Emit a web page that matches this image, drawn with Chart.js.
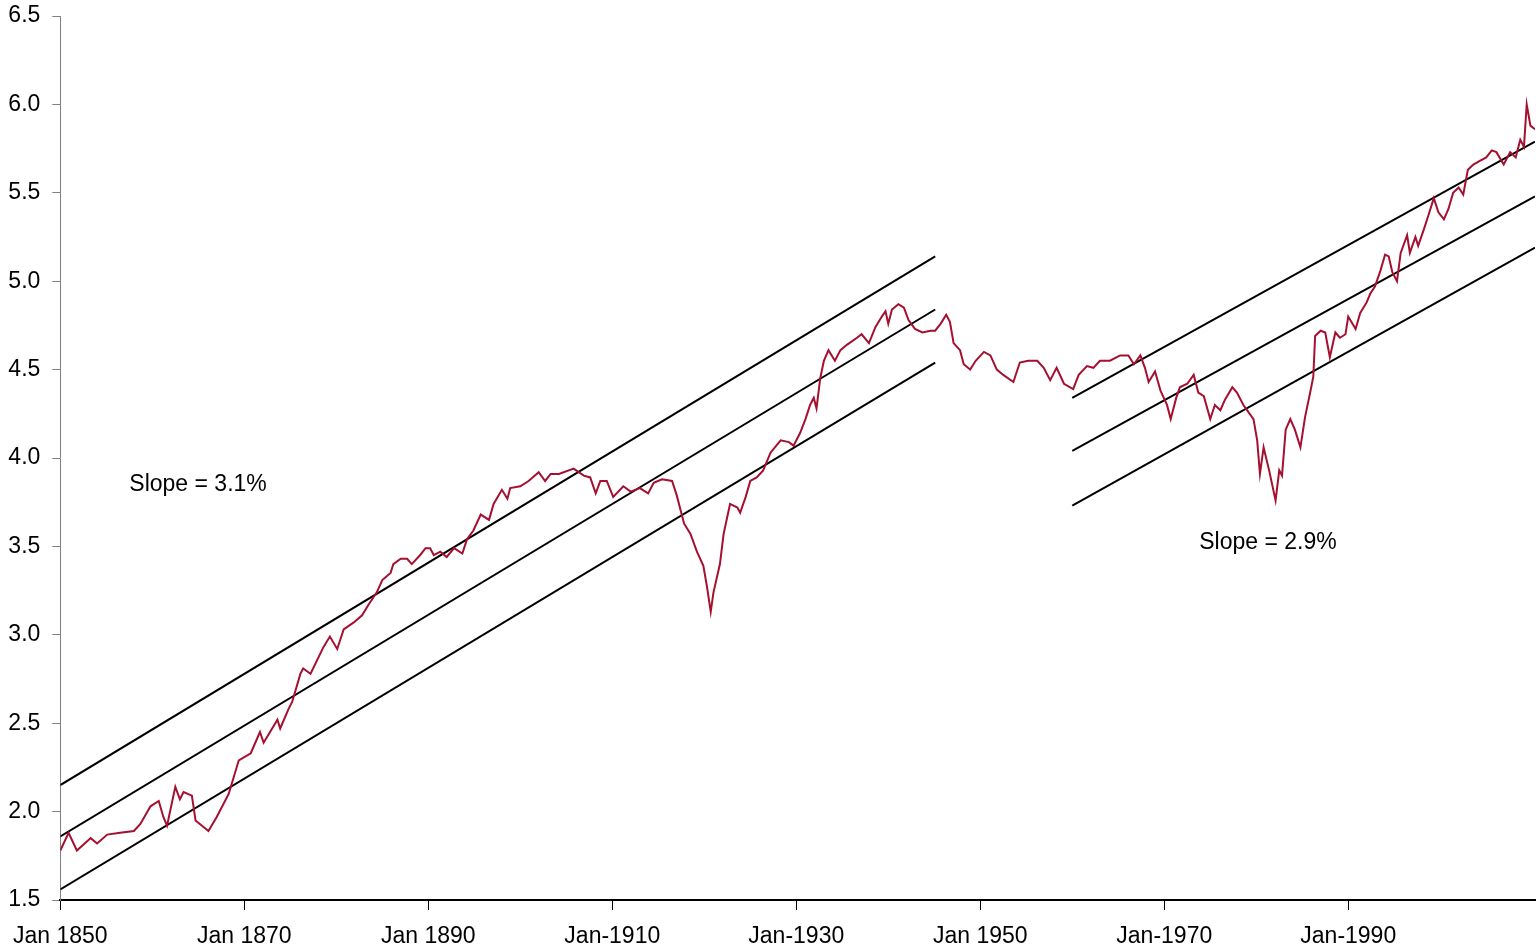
<!DOCTYPE html>
<html>
<head>
<meta charset="utf-8">
<script src="https://cdn.jsdelivr.net/npm/chart.js@4.4.0/dist/chart.umd.min.js"></script>
<style>
  html, body { margin: 0; padding: 0; background: #fff; }
  #wrap { width: 1536px; height: 952px; position: relative; }
</style>
</head>
<body>
<div id="wrap"><canvas id="chart"></canvas></div>
<script>
// x-axis ticks (years) and their labels as printed on the chart
const tickYears = [1850, 1870, 1890, 1910, 1930, 1950, 1970, 1990];
const tickLabels = ['Jan 1850', 'Jan 1870', 'Jan 1890', 'Jan-1910', 'Jan-1930', 'Jan 1950', 'Jan-1970', 'Jan-1990'];

// log series (year, value)
const priceYears = [
  1850.0, 1850.9, 1851.8, 1853.3, 1854.0, 1855.1, 1856.5, 1858.0, 1858.7, 1859.8,
  1860.7, 1861.2, 1861.6, 1862.5, 1863.0, 1863.4, 1864.3, 1864.7, 1865.4, 1866.1,
  1867.0, 1868.3, 1869.4, 1870.7, 1871.7, 1872.1, 1873.6, 1873.9, 1874.8, 1875.2,
  1876.1, 1876.4, 1877.2, 1878.6, 1879.3, 1880.1, 1880.8, 1881.9, 1882.8, 1883.5,
  1884.4, 1885.0, 1885.9, 1886.2, 1887.0, 1887.7, 1888.2, 1889.1, 1889.7, 1890.2,
  1890.6, 1891.3, 1892.0, 1892.8, 1893.7, 1894.2, 1894.9, 1895.7, 1896.6, 1897.1,
  1898.0, 1898.6, 1898.9, 1900.0, 1900.9, 1902.0, 1902.7, 1903.3, 1904.2, 1905.8,
  1906.9, 1907.6, 1908.2, 1908.7, 1909.4, 1910.1, 1911.2, 1912.0, 1913.0, 1913.9,
  1914.5, 1915.4, 1916.5, 1917.0, 1917.8, 1918.5, 1919.2, 1919.9, 1920.3, 1920.7,
  1921.0, 1921.7, 1922.1, 1922.8, 1923.6, 1923.9, 1924.5, 1925.0, 1925.7, 1926.4,
  1927.2, 1928.3, 1929.2, 1929.7, 1930.4, 1931.0, 1931.5, 1931.9, 1932.2, 1932.6,
  1933.0, 1933.5, 1934.2, 1934.8, 1935.5, 1936.6, 1937.1, 1937.9, 1938.6, 1939.3,
  1939.7, 1940.0, 1940.4, 1941.1, 1941.7, 1942.2, 1942.9, 1943.7, 1944.6, 1945.1,
  1945.7, 1946.3, 1946.7, 1947.1, 1947.8, 1948.2, 1948.9, 1949.5, 1950.4, 1951.1,
  1951.8, 1952.5, 1953.6, 1954.3, 1955.2, 1956.2, 1956.9, 1957.6, 1958.3, 1959.1,
  1960.1, 1960.7, 1961.6, 1962.3, 1963.0, 1964.1, 1965.2, 1966.1, 1966.7, 1967.4,
  1967.9, 1968.3, 1969.0, 1969.6, 1970.3, 1970.7, 1971.3, 1971.7, 1972.5, 1973.2,
  1973.7, 1974.3, 1975.0, 1975.5, 1976.1, 1976.6, 1977.4, 1977.9, 1978.6, 1979.7,
  1980.1, 1980.4, 1980.8, 1981.4, 1982.1, 1982.5, 1982.8, 1983.2, 1983.7, 1984.2,
  1984.8, 1985.3, 1985.9, 1986.2, 1986.4, 1987.0, 1987.5, 1988.0, 1988.6, 1989.1,
  1989.7, 1990.0, 1990.8, 1991.3, 1992.0, 1992.4, 1992.9, 1993.5, 1994.0, 1994.4,
  1994.8, 1995.3, 1995.7, 1996.4, 1996.7, 1997.3, 1997.6, 1998.2, 1998.7, 1999.3,
  1999.8, 2000.4, 2000.9, 2001.4, 2002.0, 2002.5, 2003.0, 2003.6, 2004.3, 2005.0,
  2005.6, 2006.1, 2006.9, 2007.6, 2008.2, 2008.7, 2009.1, 2009.4, 2009.8, 2010.3
];
const priceValues = [
  1.78, 1.88, 1.78, 1.85, 1.82, 1.87, 1.88, 1.89, 1.93, 2.03,
  2.06, 1.97, 1.92, 2.14, 2.07, 2.11, 2.09, 1.95, 1.92, 1.89,
  1.97, 2.10, 2.29, 2.33, 2.45, 2.39, 2.52, 2.47, 2.58, 2.62,
  2.78, 2.81, 2.78, 2.93, 2.99, 2.92, 3.03, 3.07, 3.11, 3.17,
  3.24, 3.31, 3.35, 3.40, 3.43, 3.43, 3.40, 3.45, 3.49, 3.49,
  3.45, 3.47, 3.44, 3.49, 3.46, 3.54, 3.59, 3.68, 3.65, 3.74,
  3.82, 3.77, 3.83, 3.84, 3.87, 3.92, 3.87, 3.91, 3.91, 3.94,
  3.90, 3.89, 3.80, 3.87, 3.87, 3.78, 3.84, 3.81, 3.83, 3.80,
  3.86, 3.88, 3.87, 3.79, 3.63, 3.57, 3.47, 3.39, 3.27, 3.13,
  3.24, 3.40, 3.57, 3.74, 3.72, 3.69, 3.78, 3.87, 3.89, 3.93,
  4.03, 4.10, 4.09, 4.07, 4.14, 4.22, 4.30, 4.34, 4.28, 4.45,
  4.55, 4.61, 4.55, 4.61, 4.64, 4.68, 4.70, 4.65, 4.74, 4.80,
  4.83, 4.76, 4.84, 4.87, 4.85, 4.78, 4.73, 4.71, 4.72, 4.72,
  4.76, 4.81, 4.77, 4.65, 4.61, 4.53, 4.50, 4.55, 4.60, 4.58,
  4.50, 4.47, 4.43, 4.54, 4.55, 4.55, 4.51, 4.44, 4.51, 4.42,
  4.39, 4.47, 4.52, 4.51, 4.55, 4.55, 4.58, 4.58, 4.53, 4.58,
  4.51, 4.43, 4.49, 4.38, 4.30, 4.22, 4.34, 4.40, 4.42, 4.47,
  4.37, 4.35, 4.22, 4.30, 4.27, 4.33, 4.40, 4.37, 4.30, 4.22,
  4.10, 3.91, 4.06, 3.93, 3.76, 3.93, 3.90, 4.16, 4.22, 4.16,
  4.06, 4.23, 4.38, 4.46, 4.69, 4.72, 4.71, 4.57, 4.71, 4.68,
  4.70, 4.80, 4.73, 4.82, 4.88, 4.93, 4.97, 5.06, 5.15, 5.14,
  5.05, 5.00, 5.16, 5.26, 5.16, 5.25, 5.20, 5.29, 5.37, 5.47,
  5.39, 5.35, 5.41, 5.50, 5.53, 5.49, 5.63, 5.66, 5.68, 5.70,
  5.74, 5.73, 5.66, 5.73, 5.70, 5.80, 5.76, 6.00, 5.88, 5.86
];

// trend channel 1850-1945 (slope 3.1%)
const trend1Years = [1850, 1945.1];
const trend1Upper = [2.15, 5.14];
const trend1Mid = [1.86, 4.84];
const trend1Lower = [1.56, 4.54];

// trend channel 1960-2010 (slope 2.9%)
const trend2Years = [1960, 2010.3];
const trend2Upper = [4.34, 5.79];
const trend2Mid = [4.04, 5.48];
const trend2Lower = [3.73, 5.19];

// slope labels: [text, year, value] at the left edge / middle of text
const slopeNotes = [
  ['Slope = 3.1%', 1857.5, 3.85],
  ['Slope = 2.9%', 1973.8, 3.52]
];

const FONT = "'Liberation Sans', Arial, sans-serif";

const toPoints = (xs, ys) => xs.map((x, i) => ({ x: x, y: ys[i] }));

const trendSet = (xs, ys) => ({
  data: toPoints(xs, ys),
  borderColor: '#000',
  borderWidth: 2,
  pointRadius: 0,
  fill: false,
  tension: 0
});

const notesPlugin = {
  id: 'slopeNotes',
  afterDatasetsDraw(chart) {
    const { ctx, scales } = chart;
    ctx.save();
    ctx.font = '23px ' + FONT;
    ctx.fillStyle = '#000';
    ctx.textAlign = 'left';
    ctx.textBaseline = 'middle';
    slopeNotes.forEach(([txt, yr, val]) => {
      ctx.fillText(txt, scales.x.getPixelForValue(yr), scales.y.getPixelForValue(val));
    });
    ctx.restore();
  }
};

new Chart(document.getElementById('chart'), {
  type: 'line',
  data: {
    datasets: [
      {
        data: toPoints(priceYears, priceValues),
        borderColor: '#a50f30',
        borderWidth: 2,
        pointRadius: 0,
        fill: false,
        tension: 0
      },
      trendSet(trend1Years, trend1Upper),
      trendSet(trend1Years, trend1Mid),
      trendSet(trend1Years, trend1Lower),
      trendSet(trend2Years, trend2Upper),
      trendSet(trend2Years, trend2Mid),
      trendSet(trend2Years, trend2Lower)
    ]
  },
  options: {
    responsive: true,
    maintainAspectRatio: false,
    animation: false,
    layout: { padding: { top: 16, right: 1, left: 0, bottom: 0 } },
    plugins: {
      legend: { display: false },
      tooltip: { enabled: false }
    },
    scales: {
      x: {
        type: 'linear',
        min: 1850,
        max: 2010.3,
        afterBuildTicks: (scale) => {
          scale.ticks = tickYears.map(v => ({ value: v }));
        },
        afterFit: (scale) => { scale.height = 52; },
        ticks: {
          autoSkip: false,
          maxRotation: 0,
          padding: 13,
          color: '#000',
          font: { family: FONT, size: 23 },
          callback: (v) => tickLabels[tickYears.indexOf(v)]
        },
        grid: { drawOnChartArea: false, drawTicks: true, tickLength: 10, color: '#000' },
        border: { color: '#000', width: 2 }
      },
      y: {
        min: 1.5,
        max: 6.5,
        afterFit: (scale) => {
          scale.width = 60;
          scale.paddingTop = 0;
          scale.paddingBottom = 0;
        },
        ticks: {
          stepSize: 0.5,
          padding: 12,
          color: '#000',
          font: { family: FONT, size: 23 },
          callback: (v) => v.toFixed(1)
        },
        grid: { drawOnChartArea: false, drawTicks: true, tickLength: 8, color: '#808080' },
        border: { color: '#808080', width: 1 }
      }
    }
  },
  plugins: [notesPlugin]
});
</script>
</body>
</html>
